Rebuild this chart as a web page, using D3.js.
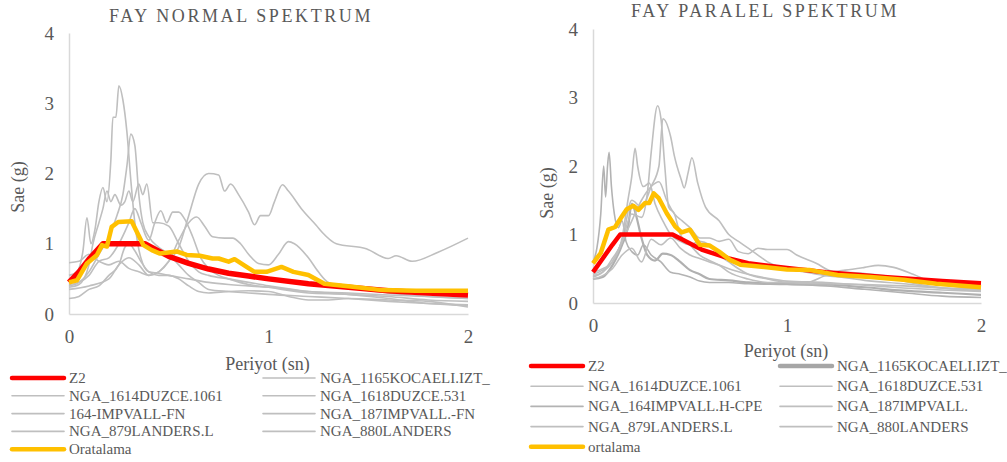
<!DOCTYPE html>
<html>
<head>
<meta charset="utf-8">
<script src="https://cdn.jsdelivr.net/npm/d3@7/dist/d3.min.js"></script>
<style>
  body { margin: 0; background: #fff; }
  svg { display: block; }
</style>
</head>
<body>
<svg id="chart" width="1007" height="462" font-family="Liberation Serif"></svg>
<script>
// ---- shared axis values ----
const xTicks = [0, 1, 2];
const yTicks = [0, 1, 2, 3, 4];

// ---- FAY NORMAL (fault-normal) spectra: [period (s), Sae (g)] ----
const fnZ2 = [[0,0.45],[0.05,0.6],[0.1,0.78],[0.17,1.0],[0.2,1.0],[0.3,1.0],[0.38,1.0],[0.5,0.82],[0.6,0.72],[0.7,0.64],[0.8,0.58],[0.9,0.54],[1.0,0.5],[1.2,0.43],[1.4,0.38],[1.6,0.33],[1.8,0.3],[2.0,0.27]];
const fnKocaeli = [[0,0.55],[0.04,0.6],[0.07,0.9],[0.09,1.37],[0.11,1.0],[0.13,1.2],[0.15,1.6],[0.17,1.8],[0.19,1.6],[0.21,2.2],[0.22,2.8],[0.235,2.8],[0.25,3.25],[0.27,3.05],[0.29,2.6],[0.31,1.9],[0.33,1.3],[0.36,0.8],[0.4,0.6],[0.45,0.58],[0.5,0.55],[0.6,0.5],[0.7,0.45],[0.8,0.42],[0.9,0.4],[1.0,0.38],[1.2,0.32],[1.4,0.3],[1.6,0.27],[1.8,0.25],[2.0,0.22]];
const fnDuzce1061 = [[0,0.4],[0.05,0.45],[0.1,0.6],[0.15,0.85],[0.2,1.1],[0.24,1.4],[0.27,1.7],[0.29,2.1],[0.31,2.56],[0.33,2.4],[0.35,1.7],[0.37,1.3],[0.4,1.1],[0.45,0.95],[0.5,0.85],[0.55,0.7],[0.6,0.55],[0.65,0.45],[0.7,0.35],[0.8,0.32],[0.9,0.3],[1.0,0.28],[1.2,0.25],[1.4,0.22],[1.6,0.18],[1.8,0.15],[2.0,0.13]];
const fnDuzce531 = [[0,0.73],[0.05,0.75],[0.1,0.85],[0.15,0.75],[0.2,0.7],[0.25,0.75],[0.3,0.65],[0.35,0.6],[0.4,0.55],[0.45,0.6],[0.5,0.75],[0.55,0.95],[0.6,1.4],[0.65,1.85],[0.7,2.0],[0.75,1.98],[0.78,1.75],[0.81,1.85],[0.85,1.7],[0.9,1.45],[0.93,1.27],[0.96,1.4],[1.0,1.4],[1.03,1.6],[1.07,1.84],[1.1,1.75],[1.17,1.48],[1.24,1.26],[1.27,1.16],[1.34,1.0],[1.49,0.93],[1.6,0.79],[1.64,0.83],[1.72,0.75],[1.85,0.88],[2.0,1.08]];
const fnImpvall164 = [[0,0.38],[0.05,0.42],[0.1,0.7],[0.12,1.0],[0.15,1.3],[0.17,1.5],[0.19,1.75],[0.21,1.6],[0.23,1.7],[0.26,1.55],[0.28,1.6],[0.3,1.75],[0.32,1.6],[0.35,1.85],[0.37,1.7],[0.39,1.85],[0.42,1.3],[0.45,1.3],[0.5,1.25],[0.55,1.0],[0.6,0.75],[0.65,0.6],[0.7,0.55],[0.8,0.5],[0.9,0.45],[1.0,0.4],[1.2,0.32],[1.4,0.28],[1.6,0.25],[1.8,0.2],[2.0,0.18]];
const fnImpvall187 = [[0,0.42],[0.05,0.45],[0.1,0.55],[0.15,0.75],[0.2,0.8],[0.25,1.0],[0.3,1.3],[0.33,1.5],[0.36,1.3],[0.4,1.05],[0.43,1.3],[0.46,1.47],[0.49,1.3],[0.52,1.45],[0.55,1.45],[0.58,1.35],[0.62,1.1],[0.66,0.8],[0.7,0.65],[0.75,0.55],[0.8,0.5],[0.9,0.42],[1.0,0.38],[1.2,0.3],[1.4,0.28],[1.6,0.22],[1.8,0.15],[2.0,0.12]];
const fnLanders879 = [[0,0.35],[0.1,0.4],[0.2,0.5],[0.25,0.7],[0.3,0.8],[0.35,0.7],[0.4,0.55],[0.45,0.6],[0.5,0.75],[0.55,1.05],[0.6,1.3],[0.64,1.38],[0.68,1.25],[0.72,1.1],[0.78,1.08],[0.82,1.08],[0.86,1.0],[0.9,0.85],[0.95,0.72],[1.0,0.7],[1.05,0.85],[1.1,1.03],[1.13,1.0],[1.2,0.8],[1.25,0.6],[1.3,0.45],[1.4,0.38],[1.6,0.3],[1.8,0.25],[2.0,0.22]];
const fnLanders880 = [[0,0.22],[0.05,0.25],[0.1,0.35],[0.15,0.4],[0.2,0.55],[0.25,0.7],[0.28,0.95],[0.3,1.0],[0.33,0.9],[0.36,0.75],[0.4,0.6],[0.45,0.55],[0.5,0.55],[0.55,0.5],[0.6,0.4],[0.65,0.32],[0.7,0.3],[0.8,0.32],[0.9,0.33],[1.0,0.32],[1.1,0.25],[1.2,0.2],[1.3,0.2],[1.4,0.22],[1.6,0.2],[1.8,0.18],[2.0,0.1]];
const fnMean = [[0,0.45],[0.04,0.48],[0.09,0.72],[0.14,0.84],[0.165,0.98],[0.19,0.96],[0.214,1.24],[0.247,1.31],[0.314,1.32],[0.373,0.98],[0.415,0.91],[0.456,0.86],[0.54,0.89],[0.59,0.84],[0.656,0.83],[0.72,0.79],[0.75,0.79],[0.8,0.745],[0.83,0.78],[0.89,0.67],[0.93,0.6],[0.99,0.6],[1.065,0.67],[1.125,0.6],[1.2,0.555],[1.28,0.43],[1.41,0.39],[1.57,0.34],[1.74,0.33],[2.0,0.33]];

// ---- FAY PARALEL (fault-parallel) spectra ----
const fpZ2 = [[0,0.45],[0.05,0.65],[0.1,0.85],[0.14,1.0],[0.2,1.0],[0.3,1.0],[0.41,1.0],[0.56,0.78],[0.7,0.65],[0.8,0.58],[1.0,0.51],[1.2,0.45],[1.5,0.38],[1.8,0.32],[2.0,0.29]];
const fpKocaeli = [[0,0.35],[0.05,0.38],[0.1,0.55],[0.15,0.85],[0.18,1.1],[0.2,1.45],[0.22,1.3],[0.25,0.95],[0.28,0.7],[0.32,0.62],[0.36,0.72],[0.4,0.7],[0.45,0.6],[0.5,0.48],[0.55,0.42],[0.6,0.35],[0.7,0.33],[0.8,0.3],[1.0,0.28],[1.2,0.27],[1.4,0.23],[1.6,0.18],[1.8,0.15],[2.0,0.12]];
const fpDuzce1061 = [[0,0.4],[0.05,0.45],[0.1,0.6],[0.15,0.9],[0.2,1.3],[0.25,1.25],[0.28,1.6],[0.3,2.2],[0.333,2.88],[0.35,2.7],[0.37,2.0],[0.39,1.4],[0.42,1.3],[0.45,1.0],[0.5,0.85],[0.55,0.7],[0.6,0.62],[0.7,0.5],[0.8,0.42],[0.9,0.36],[1.0,0.32],[1.2,0.3],[1.4,0.26],[1.6,0.22],[1.8,0.19],[2.0,0.17]];
const fpDuzce531 = [[0,0.38],[0.05,0.45],[0.1,0.65],[0.15,0.9],[0.2,1.5],[0.25,1.4],[0.3,1.7],[0.34,2.0],[0.36,2.69],[0.4,2.43],[0.42,2.14],[0.455,1.8],[0.47,1.68],[0.49,1.9],[0.51,2.12],[0.54,1.75],[0.58,1.4],[0.65,1.2],[0.7,1.0],[0.75,0.9],[0.8,0.8],[0.85,0.7],[0.9,0.6],[1.0,0.5],[1.1,0.45],[1.2,0.4],[1.3,0.37],[1.4,0.33],[1.6,0.28],[1.8,0.22],[2.0,0.18]];
const fpImpvall164 = [[0,0.6],[0.02,0.8],[0.04,1.3],[0.055,2.0],[0.065,1.55],[0.075,2.0],[0.083,2.2],[0.095,1.7],[0.11,1.3],[0.13,1.1],[0.15,1.2],[0.17,0.9],[0.2,0.75],[0.23,0.7],[0.26,0.85],[0.3,0.7],[0.35,0.6],[0.4,0.45],[0.45,0.42],[0.5,0.38],[0.55,0.32],[0.6,0.3],[0.7,0.3],[0.8,0.28],[1.0,0.27],[1.2,0.25],[1.4,0.2],[1.6,0.15],[1.8,0.1],[2.0,0.08]];
const fpImpvall187 = [[0,0.42],[0.05,0.48],[0.1,0.6],[0.15,0.95],[0.18,1.5],[0.2,1.85],[0.217,2.26],[0.23,2.0],[0.26,1.7],[0.29,1.75],[0.32,1.45],[0.36,1.2],[0.4,1.0],[0.45,0.9],[0.5,0.85],[0.55,0.9],[0.6,0.85],[0.65,0.7],[0.7,0.6],[0.75,0.5],[0.8,0.42],[0.9,0.35],[1.0,0.3],[1.2,0.28],[1.4,0.27],[1.6,0.25],[1.8,0.22],[2.0,0.2]];
const fpLanders879 = [[0,0.45],[0.05,0.5],[0.1,0.6],[0.15,0.9],[0.2,1.2],[0.25,1.5],[0.3,1.7],[0.34,1.77],[0.38,1.5],[0.42,1.3],[0.46,1.2],[0.5,1.1],[0.55,0.95],[0.6,0.95],[0.65,0.9],[0.7,0.93],[0.75,0.75],[0.8,0.72],[0.85,0.8],[0.9,0.78],[1.0,0.78],[1.05,0.7],[1.15,0.58],[1.24,0.46],[1.3,0.48],[1.4,0.52],[1.47,0.55],[1.55,0.52],[1.65,0.42],[1.75,0.3],[1.85,0.25],[2.0,0.2]];
const fpLanders880 = [[0,0.35],[0.05,0.4],[0.1,0.5],[0.15,0.7],[0.2,0.8],[0.25,0.6],[0.3,0.93],[0.35,0.85],[0.4,0.95],[0.45,0.8],[0.5,0.7],[0.55,0.65],[0.6,0.6],[0.65,0.55],[0.7,0.45],[0.8,0.35],[0.9,0.3],[1.0,0.3],[1.1,0.3],[1.2,0.4],[1.3,0.45],[1.4,0.43],[1.5,0.4],[1.6,0.32],[1.8,0.22],[2.0,0.18]];
const fpMean = [[0,0.58],[0.04,0.73],[0.079,1.07],[0.114,1.11],[0.148,1.26],[0.174,1.37],[0.208,1.42],[0.234,1.36],[0.268,1.46],[0.29,1.46],[0.313,1.6],[0.339,1.53],[0.38,1.31],[0.423,1.12],[0.457,1.03],[0.5,1.07],[0.55,0.85],[0.6,0.84],[0.65,0.75],[0.706,0.63],[0.76,0.56],[0.83,0.54],[1.0,0.49],[1.12,0.48],[1.26,0.41],[1.43,0.38],[1.6,0.34],[1.77,0.28],[2.0,0.23]];

// ---- legend labels ----
const fnNames = ["Z2","NGA_1165KOCAELI.IZT_","NGA_1614DUZCE.1061","NGA_1618DUZCE.531","164-IMPVALL-FN","NGA_187IMPVALL.-FN","NGA_879LANDERS.L","NGA_880LANDERS","Oratalama"];
const fpNames = ["Z2","NGA_1165KOCAELI.IZT_","NGA_1614DUZCE.1061","NGA_1618DUZCE.531","NGA_164IMPVALL.H-CPE","NGA_187IMPVALL.","NGA_879LANDERS.L","NGA_880LANDERS","ortalama"];

const FONT = "Liberation Serif";
const INK = "#595959";
const svg = d3.select("#chart");

const GRAY = { stroke: "#bfbfbf", width: 1.6 };

function label(g) {
  return g.append("text").attr("font-family", FONT).attr("fill", INK);
}

function drawPanel(p) {
  const g = svg.append("g");
  const x = d3.scaleLinear().domain([0, 2]).range([p.left, p.right]);
  const y = d3.scaleLinear().domain([0, 4]).range([p.bottom, p.top]);

  // axes
  const ax = g.append("g").attr("transform", `translate(0,${p.bottom})`)
    .call(d3.axisBottom(x).tickValues(xTicks).tickFormat(d3.format("d")).tickSize(0).tickPadding(16));
  const ay = g.append("g").attr("transform", `translate(${p.left},0)`)
    .call(d3.axisLeft(y).tickValues(yTicks).tickFormat(d3.format("d")).tickSize(0).tickPadding(15));
  [ax, ay].forEach(a => {
    a.attr("font-family", FONT).attr("font-size", 19);
    a.select(".domain").attr("stroke", "#d9d9d9").attr("stroke-width", 1.5);
    a.selectAll("text").attr("fill", INK);
  });

  // series
  const line = d3.line().x(d => x(d[0])).y(d => y(d[1])).curve(d3.curveMonotoneX);
  const lineLin = d3.line().x(d => x(d[0])).y(d => y(d[1]));
  p.grays.forEach((s, i) => {
    const st = p.grayStyles[i] || GRAY;
    g.append("path").datum(s).attr("d", line)
      .attr("fill", "none").attr("stroke", st.stroke).attr("stroke-width", st.width)
      .attr("stroke-linejoin", "round");
  });
  g.append("path").datum(p.z2).attr("d", lineLin)
    .attr("fill", "none").attr("stroke", "#ff0000").attr("stroke-width", p.redWidth)
    .attr("stroke-linejoin", "round");
  g.append("path").datum(p.mean).attr("d", lineLin)
    .attr("fill", "none").attr("stroke", "#ffc000").attr("stroke-width", 4.5)
    .attr("stroke-linejoin", "round");

  // titles
  label(g).attr("x", p.titleX).attr("y", p.titleY)
    .attr("text-anchor", "middle").attr("font-size", 18)
    .attr("letter-spacing", p.titleSpacing).text(p.title);
  label(g).attr("x", (p.left + p.right) / 2 - 1).attr("y", p.xTitleY)
    .attr("text-anchor", "middle").attr("font-size", 18).text("Periyot (sn)");
  label(g).attr("transform", `translate(${p.yTitleX},${p.yTitleY}) rotate(-90)`)
    .attr("text-anchor", "middle").attr("dominant-baseline", "central")
    .attr("font-size", 18).text("Sae (g)");

  // legend (two columns, row-major)
  const styles = [{ stroke: "#ff0000", width: 4.5 }]
    .concat(p.grayStyles)
    .concat([{ stroke: "#ffc000", width: 4.5 }]);
  p.names.forEach((name, i) => {
    const col = i % 2, row = Math.floor(i / 2);
    const cx = p.legCols[col];
    const cy = p.legY + row * p.legStep;
    const st = p.legendStyles[i] || styles[i];
    g.append("line").attr("x1", cx).attr("x2", cx + p.legLen)
      .attr("y1", cy).attr("y2", cy)
      .attr("stroke", st.stroke).attr("stroke-width", st.width).attr("stroke-linecap", "round");
    label(g).attr("x", cx + p.legLen + 5).attr("y", cy)
      .attr("dominant-baseline", "central").attr("font-size", 15).text(name);
  });
}

drawPanel({
  left: 69, right: 468, top: 33, bottom: 314,
  z2: fnZ2, mean: fnMean, redWidth: 5.5,
  grays: [fnKocaeli, fnDuzce1061, fnDuzce531, fnImpvall164, fnImpvall187, fnLanders879, fnLanders880],
  grayStyles: [GRAY, GRAY, GRAY, GRAY, GRAY, GRAY, GRAY],
  legendStyles: [],
  title: "FAY NORMAL SPEKTRUM", titleX: 241, titleY: 22, titleSpacing: 2.6,
  xTitleY: 370, yTitleX: 18, yTitleY: 187,
  names: fnNames, legCols: [12, 263], legLen: 52, legY: 378, legStep: 17.8
});

drawPanel({
  left: 593, right: 981, top: 29, bottom: 303,
  z2: fpZ2, mean: fpMean, redWidth: 4.5,
  grays: [fpKocaeli, fpDuzce1061, fpDuzce531, fpImpvall164, fpImpvall187, fpLanders879, fpLanders880],
  grayStyles: [{ stroke: "#b0b0b0", width: 2.2 }, GRAY, GRAY, { stroke: "#b3b3b3", width: 1.6 }, GRAY, GRAY, GRAY],
  legendStyles: [null, { stroke: "#a6a6a6", width: 4.5 }],
  title: "FAY PARALEL SPEKTRUM", titleX: 765, titleY: 17, titleSpacing: 2.6,
  xTitleY: 357, yTitleX: 547, yTitleY: 193,
  names: fpNames, legCols: [531, 780], legLen: 52, legY: 366, legStep: 20.2
});
</script>
</body>
</html>
